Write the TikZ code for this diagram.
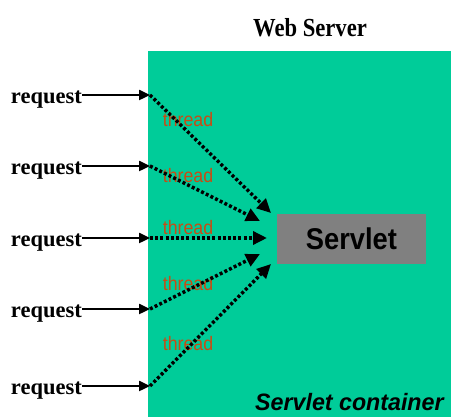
\documentclass[tikz,border=0pt]{standalone}
\usepackage{fontspec}
\usepackage{graphicx}
\setmainfont{Liberation Serif}
\newfontfamily\arialfont{Liberation Sans}
\usetikzlibrary{arrows.meta}
\definecolor{contgreen}{RGB}{0,204,153}
\definecolor{servgray}{RGB}{128,128,128}
\definecolor{threadcol}{RGB}{200,75,20}
\tikzset{
  reqlabel/.style={anchor=base east, inner sep=0pt, font=\fontsize{22.5}{22.5}\selectfont\bfseries},
  reqarrow/.style={line width=2.4pt, -{Triangle[length=11pt,width=10pt]}},
  threadarrow/.style={line width=3.4pt, dash pattern=on 3pt off 2.2pt, -{Triangle[length=14pt,width=13pt]}},
  threadlabel/.style={anchor=base, text=threadcol, inner sep=0pt, font=\arialfont\fontsize{19.5}{19.5}\selectfont},
  servletbox/.style={fill=servgray, minimum width=149pt, minimum height=50pt, inner sep=0pt, font=\arialfont\fontsize{30}{30}\selectfont\bfseries}
}
\newcommand{\thr}{\scalebox{0.91}[1]{thread}}
\begin{document}
\begin{tikzpicture}[x=1pt,y=-1pt]
\useasboundingbox (0,0) rectangle (451,417);
\fill[white] (0,0) rectangle (451,417);
\fill[contgreen] (148,51) rectangle (451,417);
\node[anchor=base, inner sep=0pt, font=\fontsize{26}{26}\selectfont\bfseries] (ws) at (310,37) {\scalebox{0.87}[1]{Web Server}};
\node[anchor=base west, inner sep=0pt, font=\arialfont\fontsize{23.7}{23.7}\selectfont\bfseries\itshape] (sc) at (255,411) {\scalebox{0.98}[1]{Servlet container}};
\node[servletbox] (servlet) at (351.5,239) {\scalebox{0.91}[1]{Servlet}};
% thread labels
\node[threadlabel] (th1) at (188,127) {\thr};
\node[threadlabel] (th2) at (188,183) {\thr};
\node[threadlabel] (th3) at (188,235) {\thr};
\node[threadlabel] (th4) at (188,291) {\thr};
\node[threadlabel] (th5) at (188,351) {\thr};
% request labels
\node[reqlabel] (r1) at (82,104) {request};
\node[reqlabel] (r2) at (82,175) {request};
\node[reqlabel] (r3) at (82,247) {request};
\node[reqlabel] (r4) at (82,318) {request};
\node[reqlabel] (r5) at (82,395) {request};
\coordinate (s1) at (150,95);
\coordinate (s2) at (150,166);
\coordinate (s3) at (150,238);
\coordinate (s4) at (150,309);
\coordinate (s5) at (150,386);
\coordinate (t1) at (271,213);
\coordinate (t2) at (260,221);
\coordinate (t3) at (267,238);
\coordinate (t4) at (260,254);
\coordinate (t5) at (271,264);
\foreach \i in {1,...,5} {
  \draw[reqarrow] (r\i.east |- s\i) -- (s\i);
}
\foreach \i in {1,...,5} {
  \draw[threadarrow] (s\i) -- (t\i);
}
\end{tikzpicture}
\end{document}
